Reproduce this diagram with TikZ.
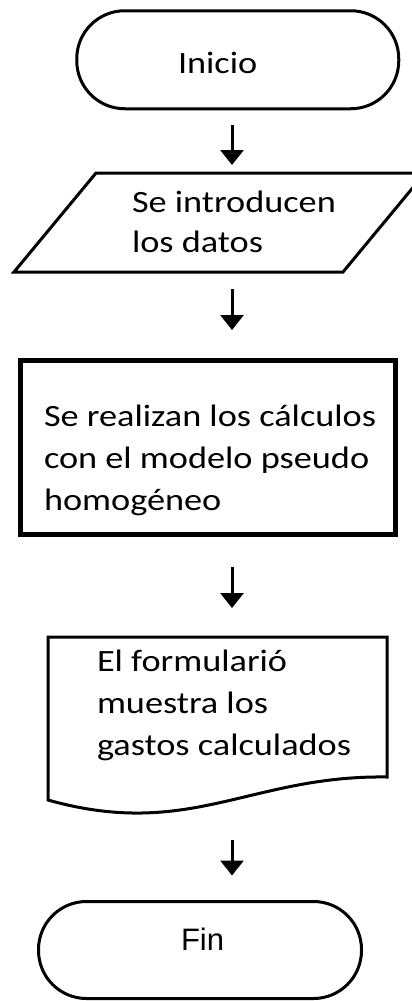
\documentclass[tikz,border=0pt]{standalone}
\usepackage{fontspec}
\setmainfont{Carlito}[FakeStretch=1.17]
\newfontfamily\finfont{Liberation Sans}
\usetikzlibrary{arrows.meta}
\begin{document}
\begin{tikzpicture}[x=1pt, y=-1pt,
    every node/.style={inner sep=0pt, outer sep=0pt},
    txt/.style={anchor=base west, align=left, font=\fontsize{31}{42}\selectfont},
    terminal/.style={draw, line width=3pt, rounded corners=48pt},
    flecha/.style={line width=3pt, -{Triangle[length=15pt,width=23pt]}}]
    \useasboundingbox (0,0) rectangle (412,1001);
    \clip (0,0) rectangle (412,1001);
    \coordinate (eje) at (232,0);
    \node[terminal, minimum width=322, minimum height=98] (inicio) at (237.75,59.75) {};
    \node[txt] (tinicio) at (178,73) {Inicio};
    \node[minimum width=411, minimum height=99] (datos) at (219.5,222.5) {};
    \draw[line width=3pt] ([xshift=82pt]datos.north west) -- (datos.north east) -- ([xshift=-82pt]datos.south east) -- (datos.south west) -- cycle;
    \node[txt, font=\fontsize{31}{40}\selectfont] (tdatos) at (132,252) {Se introducen\\los datos};
    \node[draw, line width=5pt, minimum width=374.5, minimum height=174] (calculos) at (207.75,447) {};
    \node[txt] (tcalculos) at (44,510) {Se realizan los cálculos\\con el modelo pseudo\\homogéneo};
    \node[minimum width=339, minimum height=176] (formulario) at (217.5,725) {};
    \draw[line width=3pt] (48,800) -- (48,637) -- (387,637) -- (387,777) .. controls (250,775) and (190,840) .. (48,800) -- cycle;
    \node[txt] (tformulario) at (97,755) {El formulari\'o\\muestra los\\gastos calculados};
    \node[terminal, minimum width=323, minimum height=97] (fin) at (200,950) {};
    \node[txt, font=\finfont\fontsize{31}{36}\selectfont] (tfin) at (181,950) {Fin};
    \draw[flecha, shorten <=16pt, shorten >=8pt] (inicio.south -| eje) -- (datos.north -| eje);
    \draw[flecha, shorten <=17pt, shorten >=30pt] (datos.south -| eje) -- (calculos.north -| eje);
    \draw[flecha, shorten <=33pt, shorten >=29pt] (calculos.south -| eje) -- (formulario.north -| eje);
    \draw[flecha, shorten <=27pt, shorten >=26pt] (formulario.south -| eje) -- (fin.north -| eje);
\end{tikzpicture}
\end{document}
